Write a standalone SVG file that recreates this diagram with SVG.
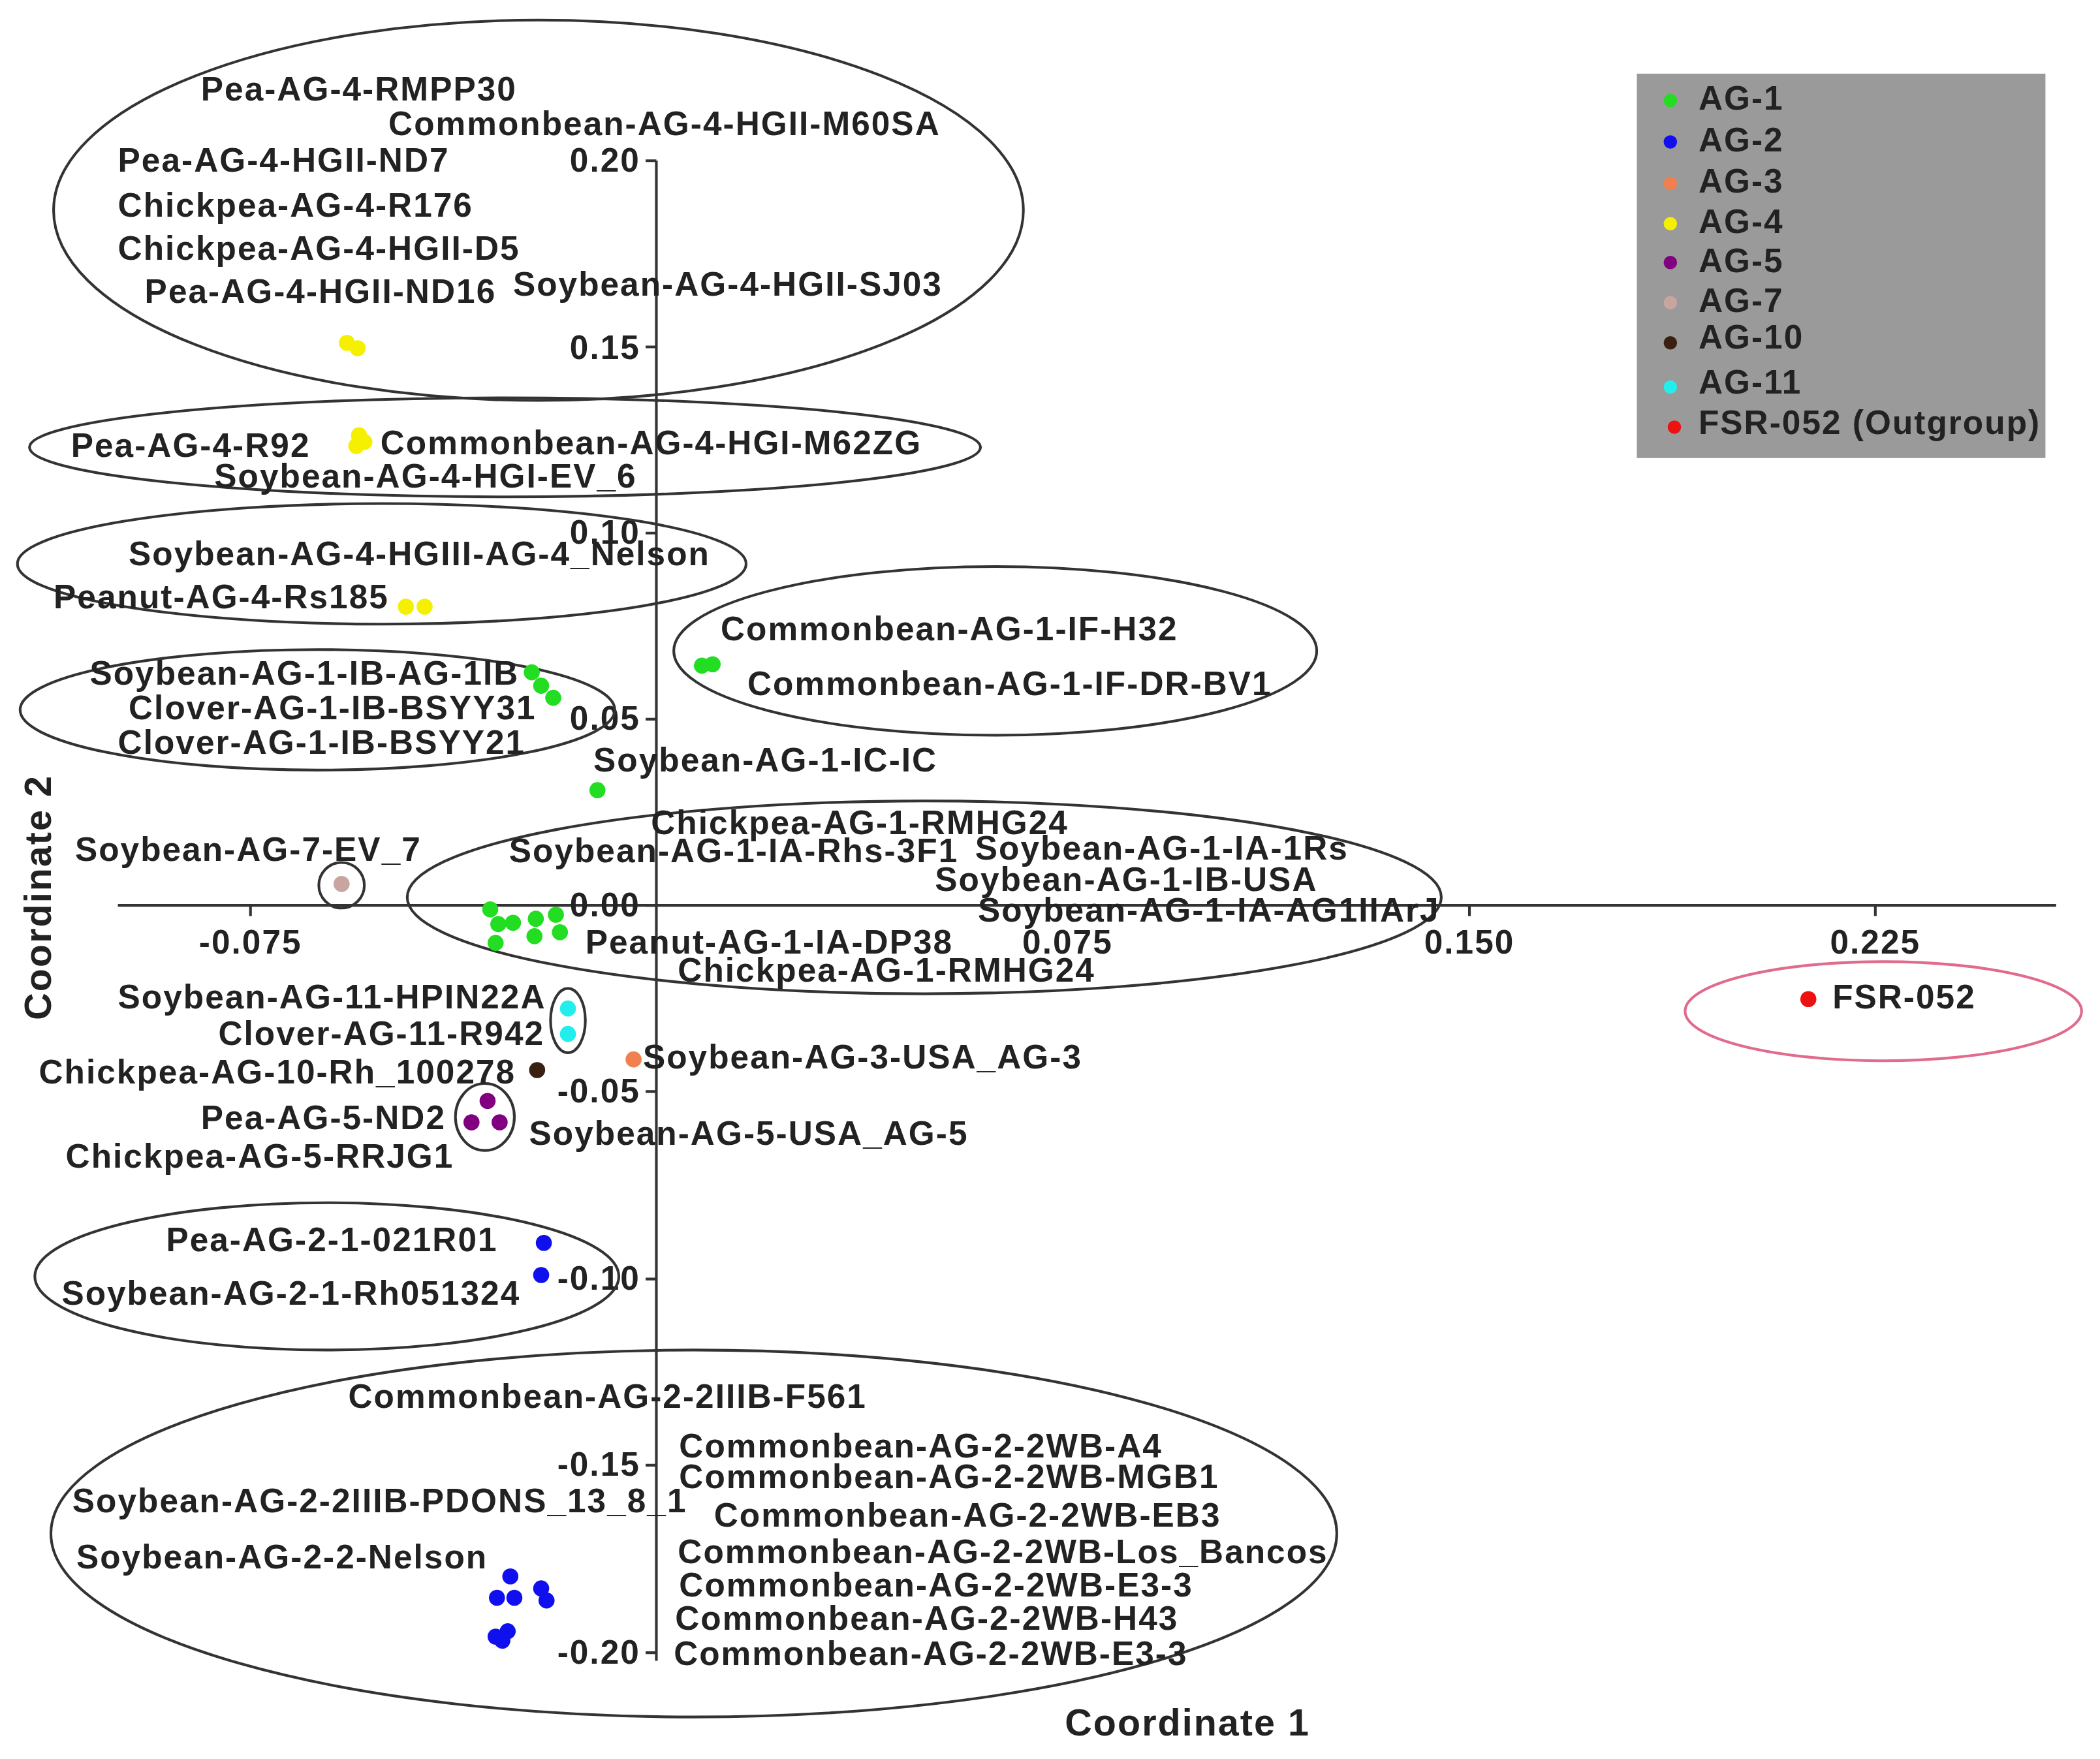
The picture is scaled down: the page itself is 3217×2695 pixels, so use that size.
<svg xmlns="http://www.w3.org/2000/svg" width="3217" height="2695" viewBox="0 0 3217 2695">
<style>
text{font-family:"Liberation Sans",Arial,sans-serif;font-weight:bold;font-size:25px;letter-spacing:1px;fill:#222}
.t{text-anchor:end}
.c{text-anchor:middle}
ellipse{fill:none;stroke:#333;stroke-width:2}
.ax{stroke:#333;stroke-width:2;fill:none}
</style>
<rect width="3217" height="2695" fill="#fff"/>
<g transform="scale(2.052)">
<g id="axes">
<path class="ax" d="M490 120V1240M88 676H1535"/>
<path class="ax" d="M482 120H490M482 259H490M482 398H490M482 537H490M482 676H490M482 815H490M482 955H490M482 1094H490M482 1234H490M187 676V684M797 676V684M1097 676V684M1400 676V684"/>
<text class="t" x="478" y="128">0.20</text><text class="t" x="478" y="268">0.15</text><text class="t" x="478" y="406">0.10</text><text class="t" x="478" y="545">0.05</text><text class="t" x="478" y="684">0.00</text><text class="t" x="478" y="823">-0.05</text><text class="t" x="478" y="963">-0.10</text><text class="t" x="478" y="1102">-0.15</text><text class="t" x="478" y="1242">-0.20</text>
<text class="c" x="187" y="712">-0.075</text><text class="c" x="797" y="712">0.075</text><text class="c" x="1097" y="712">0.150</text><text class="c" x="1400" y="712">0.225</text>
<text x="795" y="1296" style="font-size:28px">Coordinate 1</text>
<text class="c" transform="translate(38 670) rotate(-90)" style="font-size:28px">Coordinate 2</text>
</g>
<g id="connectors"></g>
<g id="groups">
<ellipse cx="402" cy="157" rx="362" ry="142"/>
<ellipse cx="377" cy="334" rx="355" ry="37"/>
<ellipse cx="285" cy="421" rx="272" ry="45"/>
<ellipse cx="743" cy="486" rx="240" ry="63"/>
<ellipse cx="237" cy="530" rx="222" ry="45"/>
<ellipse cx="255" cy="661" rx="17" ry="17"/>
<ellipse cx="690" cy="670" rx="386" ry="72"/>
<ellipse cx="424" cy="762" rx="13" ry="24"/>
<ellipse cx="362" cy="834" rx="22" ry="25"/>
<ellipse cx="244" cy="953" rx="218" ry="55"/>
<ellipse cx="518" cy="1145" rx="480" ry="137"/>
<ellipse cx="1406" cy="755" rx="148" ry="37" style="stroke:#e06b8c"/>
</g>
<g id="points">
<g fill="#f5f000"><circle cx="259" cy="256" r="6"/><circle cx="267" cy="260" r="6"/><circle cx="268" cy="325" r="6"/><circle cx="272" cy="330" r="6"/><circle cx="266" cy="333" r="6"/><circle cx="303" cy="453" r="6"/><circle cx="317" cy="453" r="6"/></g>
<g fill="#22dd22"><circle cx="397" cy="502" r="6"/><circle cx="404" cy="512" r="6"/><circle cx="413" cy="521" r="6"/><circle cx="524" cy="497" r="6"/><circle cx="532" cy="496" r="6"/><circle cx="446" cy="590" r="6"/><circle cx="366" cy="679" r="6"/><circle cx="383" cy="689" r="6"/><circle cx="372" cy="690" r="6"/><circle cx="400" cy="686" r="6"/><circle cx="415" cy="683" r="6"/><circle cx="370" cy="704" r="6"/><circle cx="399" cy="699" r="6"/><circle cx="418" cy="696" r="6"/></g>
<circle cx="255" cy="660" r="6" fill="#c9a5a0"/>
<circle cx="424" cy="753" r="6" fill="#22eeee"/><circle cx="424" cy="772" r="6" fill="#22eeee"/>
<circle cx="401" cy="799" r="6" fill="#3a2010"/>
<circle cx="473" cy="791" r="6" fill="#f08050"/>
<g fill="#800080"><circle cx="364" cy="822" r="6"/><circle cx="352" cy="838" r="6"/><circle cx="373" cy="838" r="6"/></g>
<g fill="#1010ee"><circle cx="406" cy="928" r="6"/><circle cx="404" cy="952" r="6"/><circle cx="381" cy="1177" r="6"/><circle cx="371" cy="1193" r="6"/><circle cx="384" cy="1193" r="6"/><circle cx="404" cy="1186" r="6"/><circle cx="408" cy="1195" r="6"/><circle cx="370" cy="1222" r="6"/><circle cx="379" cy="1218" r="6"/><circle cx="375" cy="1225" r="6"/></g>
<circle cx="1350" cy="746" r="6" fill="#ee1111"/>
</g>
<g id="labels">
<text x="150" y="75">Pea-AG-4-RMPP30</text>
<text x="290" y="101">Commonbean-AG-4-HGII-M60SA</text>
<text x="88" y="128">Pea-AG-4-HGII-ND7</text>
<text x="88" y="162">Chickpea-AG-4-R176</text>
<text x="88" y="194">Chickpea-AG-4-HGII-D5</text>
<text x="108" y="226">Pea-AG-4-HGII-ND16</text>
<text x="383" y="221">Soybean-AG-4-HGII-SJ03</text>
<text x="53" y="341">Pea-AG-4-R92</text>
<text x="284" y="339">Commonbean-AG-4-HGI-M62ZG</text>
<text x="160" y="364">Soybean-AG-4-HGI-EV_6</text>
<text x="96" y="422">Soybean-AG-4-HGIII-AG-4_Nelson</text>
<text x="40" y="454">Peanut-AG-4-Rs185</text>
<text x="538" y="478">Commonbean-AG-1-IF-H32</text>
<text x="558" y="519">Commonbean-AG-1-IF-DR-BV1</text>
<text x="67" y="511">Soybean-AG-1-IB-AG-1IB</text>
<text x="96" y="537">Clover-AG-1-IB-BSYY31</text>
<text x="88" y="563">Clover-AG-1-IB-BSYY21</text>
<text x="443" y="576">Soybean-AG-1-IC-IC</text>
<text x="486" y="623">Chickpea-AG-1-RMHG24</text>
<text x="56" y="643">Soybean-AG-7-EV_7</text>
<text x="380" y="644">Soybean-AG-1-IA-Rhs-3F1</text>
<text x="728" y="642">Soybean-AG-1-IA-1Rs</text>
<text x="698" y="665">Soybean-AG-1-IB-USA</text>
<text x="730" y="688">Soybean-AG-1-IA-AG1IIArJ</text>
<text x="437" y="712">Peanut-AG-1-IA-DP38</text>
<text x="506" y="733">Chickpea-AG-1-RMHG24</text>
<text x="88" y="753">Soybean-AG-11-HPIN22A</text>
<text x="1368" y="753">FSR-052</text>
<text x="163" y="780">Clover-AG-11-R942</text>
<text x="480" y="798">Soybean-AG-3-USA_AG-3</text>
<text x="29" y="809">Chickpea-AG-10-Rh_100278</text>
<text x="150" y="843">Pea-AG-5-ND2</text>
<text x="395" y="855">Soybean-AG-5-USA_AG-5</text>
<text x="49" y="872">Chickpea-AG-5-RRJG1</text>
<text x="124" y="934">Pea-AG-2-1-021R01</text>
<text x="46" y="974">Soybean-AG-2-1-Rh051324</text>
<text x="260" y="1051">Commonbean-AG-2-2IIIB-F561</text>
<text x="507" y="1088">Commonbean-AG-2-2WB-A4</text>
<text x="507" y="1111">Commonbean-AG-2-2WB-MGB1</text>
<text x="54" y="1129">Soybean-AG-2-2IIIB-PDONS_13_8_1</text>
<text x="533" y="1140">Commonbean-AG-2-2WB-EB3</text>
<text x="57" y="1171">Soybean-AG-2-2-Nelson</text>
<text x="506" y="1167">Commonbean-AG-2-2WB-Los_Bancos</text>
<text x="507" y="1192">Commonbean-AG-2-2WB-E3-3</text>
<text x="504" y="1217">Commonbean-AG-2-2WB-H43</text>
<text x="503" y="1243">Commonbean-AG-2-2WB-E3-3</text>
</g>
<g id="legend">
<rect x="1222" y="55" width="305" height="287" fill="#9a9a9a"/>
<circle cx="1247" cy="75" r="5" fill="#22dd22"/><text x="1268" y="82">AG-1</text>
<circle cx="1247" cy="106" r="5" fill="#1010ee"/><text x="1268" y="113">AG-2</text>
<circle cx="1247" cy="137" r="5" fill="#f08050"/><text x="1268" y="144">AG-3</text>
<circle cx="1247" cy="167" r="5" fill="#f5f000"/><text x="1268" y="174">AG-4</text>
<circle cx="1247" cy="196" r="5" fill="#800080"/><text x="1268" y="203">AG-5</text>
<circle cx="1247" cy="226" r="5" fill="#c9a5a0"/><text x="1268" y="233">AG-7</text>
<circle cx="1247" cy="256" r="5" fill="#3a2010"/><text x="1268" y="260">AG-10</text>
<circle cx="1247" cy="289" r="5" fill="#22eeee"/><text x="1268" y="294">AG-11</text>
<circle cx="1250" cy="319" r="5" fill="#ee1111"/><text x="1268" y="324">FSR-052 (Outgroup)</text>
</g>
</g>
</svg>
